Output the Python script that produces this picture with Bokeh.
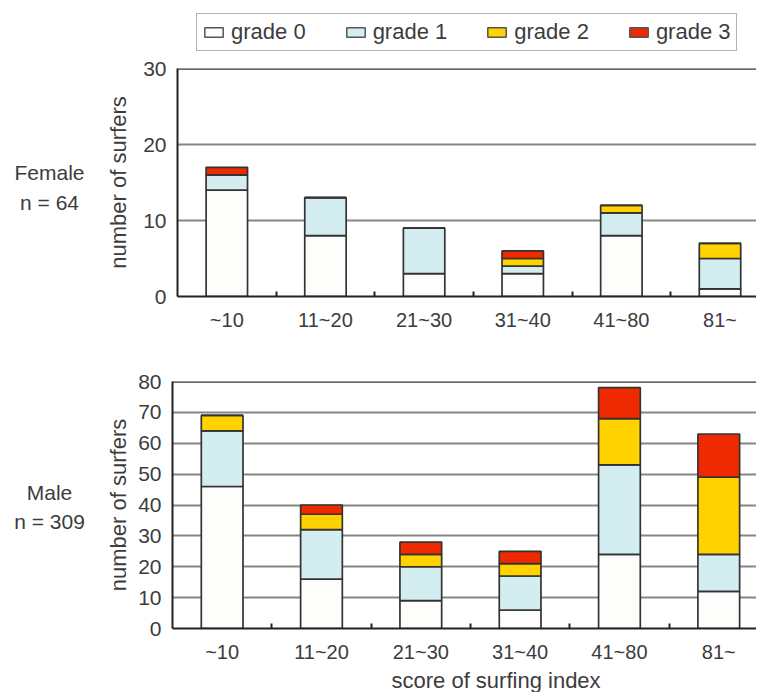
from bokeh.plotting import figure
from bokeh.models import (ColumnDataSource, Legend, LegendItem, FixedTicker, Label, Range1d,
                          Span, Title)
from bokeh.layouts import column, row
from bokeh.embed import file_html
from bokeh.resources import INLINE

categories = ["~10", "11~20", "21~30", "31~40", "41~80", "81~"]
grades = ["grade 0", "grade 1", "grade 2", "grade 3"]

female_g0 = [14, 8, 3, 3, 8, 1]
female_g1 = [2, 5, 6, 1, 3, 4]
female_g2 = [0, 0, 0, 1, 1, 2]
female_g3 = [1, 0, 0, 1, 0, 0]

male_g0 = [46, 16, 9, 6, 24, 12]
male_g1 = [18, 16, 11, 11, 29, 12]
male_g2 = [5, 5, 4, 4, 15, 25]
male_g3 = [0, 3, 4, 4, 10, 14]

female_yticks = [0, 10, 20, 30]
male_yticks = [0, 10, 20, 30, 40, 50, 60, 70, 80]

group_female = ["Female", "n = 64"]
group_male = ["Male", "n = 309"]
x_title = "score of  surfing index"
y_title = "number of surfers"

colors = ["#fdfdfb", "#d4edf0", "#ffd200", "#f02a00"]
FONT = "Liberation Sans"
TXT = "#3c3c3c"
EDGE = "#333333"

TOTAL_W = 756
GW = 90


def make_source(series):
    data = {"x": [i + 0.5 for i in range(len(categories))]}
    for g, s in zip(grades, series):
        data[g] = s
    return ColumnDataSource(data)


def make_panel(series, yticks, width, height, left, top, bottom, xend, label_standoff):
    src = make_source(series)
    x = src.data["x"]
    p = figure(width=width, height=height, output_backend="svg", toolbar_location=None,
               x_range=Range1d(0, xend), y_range=Range1d(yticks[0], yticks[-1]),
               min_border_left=left, min_border_right=0, min_border_top=top,
               min_border_bottom=bottom)
    p.outline_line_color = None
    p.vbar_stack(grades, x="x", width=0.42, source=src, fill_color=colors,
                 line_color=EDGE, line_width=1.7)
    p.xaxis.ticker = FixedTicker(ticks=x, minor_ticks=list(range(1, len(categories))))
    p.xaxis.major_label_overrides = {xx: c for xx, c in zip(x, categories)}
    p.xaxis.major_tick_in = 0
    p.xaxis.major_tick_out = 0
    p.xaxis.minor_tick_in = 5
    p.xaxis.minor_tick_out = 0
    p.xaxis.minor_tick_line_color = "#222222"
    p.xaxis.minor_tick_line_width = 2
    p.xaxis.axis_line_color = "#222222"
    p.xaxis.axis_line_width = 2
    p.xaxis.major_label_text_font = FONT
    p.xaxis.major_label_text_font_size = "20px"
    p.xaxis.major_label_text_color = TXT
    p.xaxis.major_label_standoff = 12

    p.yaxis.ticker = FixedTicker(ticks=yticks)
    p.yaxis.major_tick_in = 0
    p.yaxis.major_tick_out = 0
    p.yaxis.minor_tick_line_color = None
    p.yaxis.axis_line_color = "#222222"
    p.yaxis.axis_line_width = 2
    p.yaxis.major_label_text_font = FONT
    p.yaxis.major_label_text_font_size = "21px"
    p.yaxis.major_label_text_color = TXT
    p.yaxis.major_label_standoff = 11
    p.yaxis.axis_label = y_title
    p.yaxis.axis_label_text_font = FONT
    p.yaxis.axis_label_text_font_style = "normal"
    p.yaxis.axis_label_text_font_size = "22px"
    p.yaxis.axis_label_text_color = TXT
    p.yaxis.axis_label_standoff = label_standoff

    p.xgrid.grid_line_color = None
    p.ygrid.ticker = FixedTicker(ticks=yticks)
    p.ygrid.grid_line_color = "#858585"
    p.ygrid.grid_line_width = 2
    p.add_layout(Span(location=yticks[-1], dimension="width", line_color="#333333",
                      line_width=2.5))
    return p


def make_group(lines, width, height, ys):
    # frame of this strip is aligned with the neighbouring panel's frame;
    # label y positions are measured upward from that frame's bottom
    g = figure(width=width, height=height, output_backend="svg", toolbar_location=None,
               x_axis_location=None, y_axis_location=None, min_border=0,
               x_range=Range1d(0, 1), y_range=Range1d(0, 1))
    g.outline_line_color = None
    g.grid.grid_line_color = None
    for t, yy in zip(lines, ys):
        g.add_layout(Label(x=49, y=yy, x_units="screen", y_units="screen", text=t,
                           text_align="center", text_baseline="middle", text_font=FONT,
                           text_font_size="21px", text_color=TXT))
    return g


# legend strip (its renderers are hidden, only the legend is drawn)
pl = figure(width=TOTAL_W, height=52, output_backend="svg", toolbar_location=None,
            x_axis_location=None, y_axis_location=None, min_border=0,
            x_range=Range1d(0, 1), y_range=Range1d(0, 1))
pl.outline_line_color = None
pl.grid.grid_line_color = None
lr = pl.vbar_stack(grades, x="x", width=0.42, source=make_source(
    [female_g0, female_g1, female_g2, female_g3]), fill_color=colors, line_color="#555555",
    line_width=1.5)
for r in lr:
    r.visible = False
legend = Legend(items=[LegendItem(label=g, renderers=[r]) for g, r in zip(grades, lr)],
                orientation="horizontal", location=(196, 1))
legend.label_text_font = FONT
legend.label_text_font_size = "22px"
legend.label_text_color = TXT
legend.glyph_width = 23
legend.glyph_height = 12
legend.label_standoff = 6
legend.spacing = 38
legend.padding = 5
legend.margin = 0
legend.border_line_color = "#666666"
legend.border_line_width = 1.5
legend.inactive_fill_alpha = 0
legend.click_policy = "none"
pl.add_layout(legend, "center")

H1 = 288
H2 = 352
p1 = make_panel([female_g0, female_g1, female_g2, female_g3], female_yticks,
                TOTAL_W - GW, H1, 177 - GW, 16, 44, 5.87, 9)
g1 = make_group(group_female, GW, H1, (124, 94))

p2 = make_panel([male_g0, male_g1, male_g2, male_g3], male_yticks,
                TOTAL_W - GW, H2, 172 - GW, 41, 63, 5.88, 4)
p2.add_layout(Title(text=x_title, align="left", offset=219, text_font=FONT,
                    text_font_size="22px", text_font_style="normal", text_color=TXT,
                    standoff=0), "below")
g2 = make_group(group_male, GW, H2, (136, 107))

layout = column(pl, row(g1, p1, spacing=0), row(g2, p2, spacing=0), spacing=0)
open("out.html", "w").write(file_html(layout, INLINE))
